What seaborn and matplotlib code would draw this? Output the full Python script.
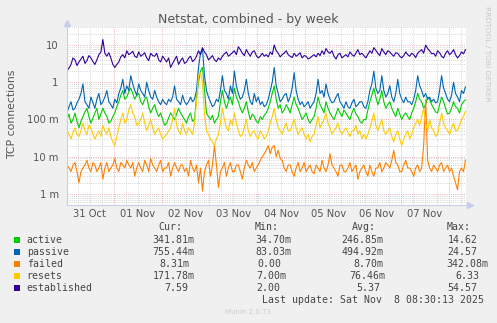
import numpy as np
import pandas as pd
import matplotlib
matplotlib.use("Agg")
import matplotlib.pyplot as plt
from matplotlib.patches import Rectangle
from matplotlib.ticker import FixedLocator, NullFormatter
import seaborn as sns

# ---- data: TCP connection rates, one sample per hour ----
active = [0.1, 0.14, 0.08, 0.1, 0.15, 0.09, 0.06, 0.09, 0.12, 0.16, 0.2, 0.12, 0.08, 0.11, 0.15, 0.2, 0.1, 0.14, 0.2, 0.15, 0.12, 0.08, 0.09, 0.12, 0.15, 0.22, 0.3, 0.45, 0.6, 0.35, 0.4, 0.55, 0.7, 0.5, 0.35, 0.45, 0.5, 0.3, 0.25, 0.35, 0.4, 0.22, 0.15, 0.2, 0.25, 0.16, 0.12, 0.15, 0.1, 0.07,
          0.08, 0.11, 0.15, 0.12, 0.1, 0.14, 0.2, 0.15, 0.12, 0.1, 0.08, 0.12, 0.15, 0.09, 0.1, 0.4, 1.0, 2.0, 2.5, 0.6, 0.15, 0.12, 0.1, 0.13, 0.08, 0.1, 0.12, 0.3, 0.6, 0.3, 0.2, 0.3, 0.4, 0.25, 0.7, 0.4, 0.3, 0.2, 0.15, 0.2, 0.3, 0.16, 0.1, 0.14, 0.12, 0.09, 0.08, 0.12, 0.1, 0.13,
          0.15, 0.2, 0.3, 0.5, 0.8, 0.35, 0.2, 0.25, 0.15, 0.18, 0.25, 0.2, 0.15, 0.25, 0.4, 0.25, 0.2, 0.14, 0.1, 0.12, 0.15, 0.1, 0.08, 0.1, 0.12, 0.2, 0.4, 0.25, 0.2, 0.15, 0.3, 0.2, 0.15, 0.12, 0.1, 0.14, 0.2, 0.15, 0.12, 0.18, 0.15, 0.12, 0.1, 0.15, 0.2, 0.14, 0.12, 0.09, 0.08, 0.1,
          0.1, 0.18, 0.3, 0.45, 0.7, 0.4, 0.25, 0.35, 0.6, 0.3, 0.2, 0.25, 0.3, 0.2, 0.15, 0.12, 0.2, 0.14, 0.1, 0.13, 0.15, 0.12, 0.1, 0.15, 0.2, 0.3, 0.5, 0.35, 0.3, 0.2, 0.25, 0.4, 0.35, 0.25, 0.2, 0.16, 0.15, 0.25, 0.4, 0.3, 0.2, 0.14, 0.15, 0.2, 0.3, 0.22, 0.2, 0.15, 0.25, 0.3, 0.34]
passive = [0.15, 0.22, 0.3, 0.18, 0.2, 0.28, 0.35, 0.5, 0.9, 0.3, 0.25, 0.2, 0.4, 0.28, 0.2, 0.35, 0.5, 0.25, 0.3, 0.4, 0.6, 0.3, 0.25, 0.2, 0.35, 0.28, 0.5, 0.7, 1.2, 0.5, 0.8, 0.6, 1.5, 0.9, 0.6, 0.45, 0.9, 0.6, 0.5, 0.4, 1.0, 0.6, 0.4, 0.35, 0.6, 0.4, 0.3, 0.25, 0.35, 0.28,
           0.25, 0.35, 0.3, 0.4, 0.8, 0.35, 0.3, 0.25, 0.45, 0.3, 0.25, 0.3, 0.4, 0.3, 0.35, 0.6, 2.5, 6.0, 8.0, 1.5, 0.6, 0.4, 0.3, 0.22, 0.25, 0.35, 0.3, 0.6, 1.5, 0.6, 0.5, 0.35, 0.8, 0.5, 2.0, 0.8, 0.5, 0.35, 0.4, 0.6, 1.2, 0.5, 0.3, 0.25, 0.5, 0.3, 0.4, 0.25, 0.3, 0.22,
           0.25, 0.35, 0.6, 1.0, 2.5, 0.8, 0.5, 0.3, 0.35, 0.45, 0.5, 0.3, 0.4, 0.7, 1.8, 0.6, 0.35, 0.25, 0.3, 0.22, 0.25, 0.3, 0.2, 0.25, 0.3, 0.5, 1.2, 0.5, 0.6, 0.4, 0.9, 0.5, 0.35, 0.28, 0.3, 0.4, 0.5, 0.3, 0.25, 0.2, 0.3, 0.22, 0.2, 0.28, 0.35, 0.22, 0.25, 0.3, 0.3, 0.22,
           0.2, 0.3, 0.6, 0.9, 2.0, 0.7, 0.5, 0.6, 1.5, 0.6, 0.4, 0.5, 0.8, 0.4, 0.3, 0.5, 1.2, 0.5, 0.35, 0.28, 0.4, 0.3, 0.3, 0.25, 0.35, 0.6, 1.5, 0.8, 0.6, 0.4, 0.5, 0.35, 0.4, 0.3, 0.35, 0.28, 0.3, 0.6, 1.5, 0.7, 0.5, 0.35, 0.3, 0.45, 1.0, 0.5, 0.4, 0.3, 0.6, 0.5, 0.755]
failed = [0.006, 0.005, 0.004, 0.006, 0.007, 0.004, 0.002, 0.004, 0.005, 0.006, 0.008, 0.005, 0.004, 0.007, 0.006, 0.004, 0.005, 0.007, 0.0025, 0.005, 0.007, 0.004, 0.005, 0.006, 0.009, 0.005, 0.004, 0.007, 0.006, 0.005, 0.008, 0.006, 0.005, 0.007, 0.003, 0.005, 0.007, 0.005, 0.004, 0.008, 0.006, 0.004, 0.009, 0.006, 0.005, 0.004, 0.006, 0.008, 0.004, 0.005,
          0.005, 0.007, 0.003, 0.005, 0.007, 0.005, 0.004, 0.006, 0.006, 0.004, 0.005, 0.003, 0.008, 0.005, 0.004, 0.006, 0.002, 0.005, 0.0012, 0.004, 0.006, 0.008, 0.003, 0.006, 0.02, 0.006, 0.0015, 0.004, 0.005, 0.007, 0.003, 0.005, 0.007, 0.004, 0.004, 0.006, 0.006, 0.004, 0.0025, 0.005, 0.008, 0.006, 0.005, 0.007, 0.004, 0.005, 0.006, 0.008, 0.01, 0.012,
          0.015, 0.02, 0.012, 0.018, 0.02, 0.01, 0.015, 0.009, 0.008, 0.005, 0.004, 0.006, 0.006, 0.004, 0.003, 0.005, 0.007, 0.004, 0.005, 0.007, 0.004, 0.005, 0.006, 0.004, 0.0035, 0.006, 0.005, 0.004, 0.008, 0.005, 0.004, 0.006, 0.012, 0.006, 0.005, 0.004, 0.003, 0.006, 0.006, 0.004, 0.004, 0.005, 0.007, 0.004, 0.005, 0.006, 0.0025, 0.004, 0.005, 0.006,
          0.004, 0.003, 0.006, 0.004, 0.003, 0.005, 0.005, 0.007, 0.004, 0.005, 0.007, 0.006, 0.005, 0.008, 0.015, 0.007, 0.006, 0.004, 0.004, 0.006, 0.008, 0.005, 0.005, 0.004, 0.003, 0.005, 0.006, 0.004, 0.005, 0.02, 0.342, 0.008, 0.005, 0.004, 0.006, 0.005, 0.004, 0.006, 0.007, 0.004, 0.005, 0.006, 0.004, 0.005, 0.003, 0.002, 0.0013, 0.004, 0.005, 0.004, 0.0083]
resets = [0.05, 0.04, 0.03, 0.045, 0.06, 0.04, 0.035, 0.05, 0.08, 0.05, 0.04, 0.07, 0.06, 0.04, 0.03, 0.04, 0.05, 0.035, 0.07, 0.05, 0.04, 0.06, 0.035, 0.025, 0.02, 0.035, 0.06, 0.1, 0.15, 0.08, 0.1, 0.18, 0.25, 0.15, 0.12, 0.07, 0.08, 0.1, 0.15, 0.08, 0.05, 0.07, 0.1, 0.06, 0.04, 0.05, 0.06, 0.04, 0.03, 0.035,
          0.04, 0.05, 0.06, 0.1, 0.2, 0.07, 0.05, 0.04, 0.08, 0.05, 0.04, 0.06, 0.05, 0.04, 0.08, 0.3, 1.5, 1.8, 1.0, 0.15, 0.05, 0.04, 0.03, 0.025, 0.02, 0.03, 0.04, 0.08, 0.2, 0.1, 0.06, 0.05, 0.1, 0.07, 0.15, 0.08, 0.05, 0.035, 0.04, 0.06, 0.1, 0.05, 0.035, 0.045, 0.05, 0.035, 0.03, 0.05, 0.04, 0.03,
          0.035, 0.05, 0.08, 0.12, 0.2, 0.1, 0.06, 0.05, 0.04, 0.06, 0.08, 0.05, 0.05, 0.07, 0.1, 0.06, 0.04, 0.05, 0.06, 0.04, 0.03, 0.04, 0.025, 0.035, 0.04, 0.07, 0.12, 0.06, 0.08, 0.1, 0.15, 0.08, 0.06, 0.04, 0.05, 0.06, 0.08, 0.05, 0.04, 0.05, 0.06, 0.045, 0.035, 0.05, 0.05, 0.07, 0.04, 0.05, 0.03, 0.04,
          0.03, 0.04, 0.06, 0.09, 0.15, 0.07, 0.05, 0.07, 0.1, 0.05, 0.04, 0.05, 0.06, 0.035, 0.025, 0.04, 0.05, 0.03, 0.02, 0.03, 0.04, 0.05, 0.03, 0.04, 0.06, 0.08, 0.1, 0.07, 0.12, 0.2, 0.08, 0.05, 0.1, 0.06, 0.05, 0.035, 0.04, 0.08, 0.15, 0.08, 0.06, 0.05, 0.04, 0.06, 0.08, 0.05, 0.05, 0.07, 0.1, 0.12, 0.172]
established = [2.0, 2.4, 3.0, 4.5, 4.0, 2.8, 3.5, 4.2, 5.0, 3.2, 3.8, 5.2, 4.5, 3.6, 3.0, 4.0, 5.5, 6.5, 14, 6.0, 5.0, 6.2, 4.5, 3.0, 2.5, 3.0, 3.5, 4.8, 5.5, 4.5, 7.0, 5.5, 6.0, 6.8, 5.0, 4.6, 6.5, 5.0, 5.5, 6.2, 4.5, 3.8, 6.0, 5.2, 5.0, 6.0, 4.0, 3.5, 5.0, 4.2,
               3.5, 4.5, 2.5, 3.2, 4.0, 5.0, 3.0, 3.8, 4.5, 3.2, 3.5, 4.4, 5.0, 3.6, 4.0, 5.0, 7.0, 5.5, 8.5, 6.5, 5.5, 4.0, 4.5, 5.2, 4.0, 3.6, 4.5, 4.0, 5.0, 5.8, 6.5, 5.0, 5.5, 6.2, 7.0, 5.5, 9.0, 7.5, 6.0, 5.2, 7.5, 6.0, 5.0, 6.5, 7.0, 5.2, 4.5, 5.0, 6.0, 5.0,
               5.5, 4.8, 6.5, 5.5, 10, 7.0, 6.0, 4.8, 5.5, 6.0, 7.0, 5.5, 5.0, 4.6, 6.0, 5.0, 5.5, 6.2, 4.5, 5.2, 5.0, 4.2, 4.5, 5.0, 5.5, 4.8, 6.0, 5.2, 7.0, 5.6, 8.0, 6.5, 6.0, 7.0, 5.0, 4.2, 5.5, 6.0, 4.5, 5.0, 5.5, 4.8, 6.5, 5.5, 5.0, 6.0, 7.5, 5.5, 6.0, 5.2,
               4.5, 5.6, 7.0, 6.0, 8.5, 7.2, 6.0, 5.2, 8.0, 6.5, 5.5, 7.0, 6.5, 5.6, 5.0, 6.2, 6.0, 5.0, 4.5, 5.2, 6.5, 5.5, 5.0, 6.0, 5.5, 4.6, 6.0, 6.8, 7.5, 6.0, 10, 8.0, 7.0, 5.8, 6.0, 5.0, 7.0, 6.2, 5.0, 4.5, 6.0, 7.0, 5.5, 6.2, 7.5, 5.5, 4.5, 5.2, 6.5, 5.8, 7.59]

series_names = ["active", "passive", "failed", "resets", "established"]
series_colors = ["#00CC00", "#0066B3", "#FF8000", "#FFCC00", "#330099"]
cur_vals = ["341.81m", "755.44m", "8.31m", "171.78m", "7.59"]
min_vals = ["34.70m", "83.03m", "0.00", "7.00m", "2.00"]
avg_vals = ["246.85m", "494.92m", "8.70m", "76.46m", "5.37"]
max_vals = ["14.62", "24.57", "342.08m", "6.33", "54.57"]
day_labels = ["31 Oct", "01 Nov", "02 Nov", "03 Nov", "04 Nov", "05 Nov", "06 Nov", "07 Nov"]
ytick_vals = [0.001, 0.01, 0.1, 1, 10]
ytick_labels = ["1 m", "10 m", "100 m", "1", "10"]

# ---- layout helpers ----
W, H = 497, 323
BG = "#F0F0F0"
TXT = "#444444"


def fx(x):
    return x / W


def fy(y):
    return 1 - y / H


start = pd.Timestamp("2025-10-31 00:30")
frames = []
for name, vals in zip(series_names, [active, passive, failed, resets, established]):
    t = pd.date_range(start, periods=len(vals), freq="1h")
    frames.append(pd.DataFrame({"time": t, "series": name, "value": np.asarray(vals, dtype=float)}))
df = pd.concat(frames, ignore_index=True)

sns.set_style("white")
plt.rcParams["font.family"] = ["DejaVu Sans"]

fig = plt.figure(figsize=(W / 100, H / 100), dpi=100, facecolor=BG)
ax = fig.add_axes([fx(67), fy(205), fx(399), 178 / H])
ax.set_facecolor("white")

x0 = pd.Timestamp("2025-10-31 00:30")
x1 = pd.Timestamp("2025-11-08 08:45")
ax.set_yscale("log")
ax.set_ylim(5.07e-4, 30.4)
ax.set_xlim(x0, x1)

# grid: minor log lines (grey) and decades (red), 6-hour and midnight verticals
grid_dots = (0, (1, 1.6))
for dec in [1e-4, 1e-3, 1e-2, 1e-1, 1, 10]:
    for m in range(2, 10):
        ax.axhline(dec * m, color="#c8c8c8", lw=0.6, ls=grid_dots, zorder=0)
for v in ytick_vals:
    ax.axhline(v, color="#e89a9a", lw=0.6, ls=grid_dots, zorder=0.5)
for t in pd.date_range("2025-10-31 06:00", x1, freq="6h"):
    if t.hour == 0:
        ax.axvline(t, color="#e89a9a", lw=0.6, ls=grid_dots, zorder=0.5)
    else:
        ax.axvline(t, color="#c8c8c8", lw=0.6, ls=grid_dots, zorder=0)

sns.lineplot(data=df, x="time", y="value", hue="series", hue_order=series_names,
             palette=dict(zip(series_names, series_colors)), estimator=None,
             linewidth=0.8, legend=False, ax=ax, zorder=2)

ax.yaxis.set_major_locator(FixedLocator(ytick_vals))
ax.set_yticklabels(ytick_labels)
ax.yaxis.set_minor_formatter(NullFormatter())
ax.tick_params(axis="y", which="both", length=0, pad=6, labelsize=7.2, labelcolor="#555555")
noons = pd.date_range("2025-10-31 12:00", periods=len(day_labels), freq="D")
ax.set_xticks(noons)
ax.set_xticklabels(day_labels)
ax.tick_params(axis="x", which="both", length=0, pad=3, labelsize=7.2, labelcolor="#555555")
ax.set_xlabel("")
ax.set_ylabel("TCP connections", fontsize=7.8, color="#555555")
ax.yaxis.set_label_coords(-0.125, 0.508)

for side in ["top", "right"]:
    ax.spines[side].set_visible(False)
for side in ["left", "bottom"]:
    ax.spines[side].set_color("#c8cdea")
    ax.spines[side].set_linewidth(0.8)
ax.plot([0], [1.02], marker="^", ms=4, color="#c8cdea", transform=ax.transAxes, clip_on=False)
ax.plot([1.01], [0], marker=">", ms=4, color="#c8cdea", transform=ax.transAxes, clip_on=False)

# title and side captions
fig.text(fx(248), fy(19), "Netstat, combined - by week", ha="center", va="center",
         fontsize=9, color="#555555")
fig.text(fx(487.5), fy(53.5), "RRDTOOL / TOBI OETIKER", rotation=270, ha="center", va="center",
         fontsize=5.4, color="#c8c8c8")
fig.text(fx(248.3), fy(311.7), "Munin 2.0.73", ha="center", va="center", fontsize=5, color="#cccccc")

# legend table
mono = dict(family="DejaVu Sans Mono", fontsize=7.1, color=TXT, va="center", ha="left")
row_y = [240, 252.3, 263.7, 275.7, 287.7]
fig.text(fx(158), fy(227.3), "Cur:", **mono)
fig.text(fx(255), fy(227.3), "Min:", **mono)
fig.text(fx(351.7), fy(227.3), "Avg:", **mono)
fig.text(fx(446.7), fy(227.3), "Max:", **mono)
cur_x = [152.3, 152.3, 159, 152.3, 164.3]
min_x = [255, 255, 257.3, 256, 256.7]
avg_x = [341.7, 341.7, 353.3, 349.3, 356.7]
max_x = [447.7, 447.7, 446.7, 455, 447.7]
for i, name in enumerate(series_names):
    y = row_y[i]
    fig.patches.append(Rectangle((fx(14), fy(y + 3)), fx(6), 6 / H, transform=fig.transFigure,
                                 facecolor=series_colors[i], edgecolor="none"))
    fig.text(fx(26.7), fy(y), name, **mono)
    fig.text(fx(cur_x[i]), fy(y), cur_vals[i], **mono)
    fig.text(fx(min_x[i]), fy(y), min_vals[i], **mono)
    fig.text(fx(avg_x[i]), fy(y), avg_vals[i], **mono)
    fig.text(fx(max_x[i]), fy(y), max_vals[i], **mono)
fig.text(fx(261.7), fy(300), "Last update: Sat Nov  8 08:30:13 2025", **mono)

fig.savefig("out.png", dpi=100, facecolor=BG)
